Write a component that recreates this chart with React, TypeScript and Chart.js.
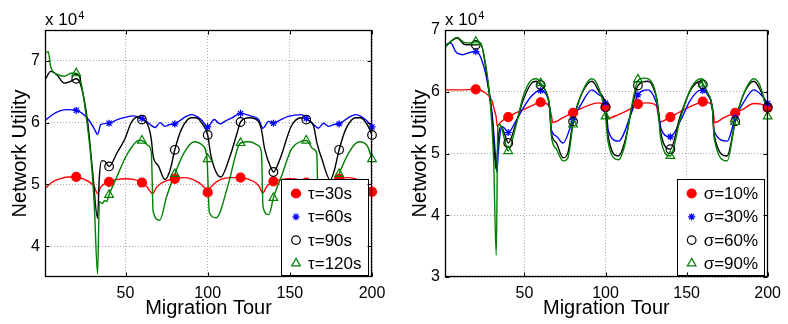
import React, { useEffect, useRef } from "react";
import { Chart, registerables } from "chart.js";

Chart.register(...registerables);

const FONT = "'Liberation Sans', Arial, Helvetica, sans-serif";
Chart.defaults.font.family = FONT;
Chart.defaults.color = "#000";

// ---------- shared axes ----------
const markerTours = [20, 40, 60, 80, 100, 120, 140, 160, 180, 200];
const xTicks = [50, 100, 150, 200];
const leftYTicks = [4, 5, 6, 7];
const rightYTicks = [3, 4, 5, 6, 7];
const xTitle = "Migration Tour";
const yTitle = "Network Utility";
const leftLabels = ["τ=30s", "τ=60s", "τ=90s", "τ=120s"];
const rightLabels = ["σ=10%", "σ=30%", "σ=60%", "σ=90%"];

// ---------- left panel (values in units of 10^4) ----------
const tau30X = [1, 5, 10, 15, 20, 25, 29, 31, 33, 35, 40, 45, 50, 55, 60, 63, 66.5, 69, 75, 80, 85, 90, 95, 98, 100, 102, 108, 114, 120, 125, 129, 131.5, 133.5, 136, 140, 145, 150, 155, 160, 163, 166.5, 169, 175, 180, 185, 190, 195, 198, 200];
const tau30Y = [4.93, 5.03, 5.09, 5.12, 5.12, 5.08, 5.02, 4.96, 4.85, 4.96, 5.04, 5.08, 5.09, 5.08, 5.03, 4.96, 4.85, 4.96, 5.06, 5.09, 5.11, 5.09, 5.02, 4.95, 4.87, 4.96, 5.08, 5.11, 5.11, 5.08, 5.03, 4.96, 4.86, 4.97, 5.05, 5.08, 5.09, 5.08, 5.03, 4.96, 4.85, 4.96, 5.06, 5.09, 5.11, 5.09, 5.02, 4.95, 4.88];
const tau30M = [5.12, 5.04, 5.03, 5.09, 4.87, 5.11, 5.05, 5.03, 5.09, 4.88];

const tau60X = [1, 5, 10, 15, 20, 25, 28, 31, 33, 35, 40, 45, 49, 55, 60, 65, 68, 71, 74, 77, 80, 85, 90, 96, 100, 104, 107.5, 111, 115, 120, 126, 131, 133.7, 137, 140, 144, 149, 157, 160, 164, 167.4, 170.5, 173.5, 177, 180, 185, 190, 196, 200];
const tau60Y = [6.03, 6.12, 6.19, 6.21, 6.2, 6.12, 6.03, 5.9, 5.81, 5.97, 5.99, 6.05, 6.08, 6.11, 6.07, 5.97, 5.92, 6.0, 5.94, 5.97, 5.98, 6.07, 6.13, 6.05, 5.93, 6.05, 5.98, 6.03, 6.08, 6.15, 6.11, 6.05, 5.91, 6.02, 5.99, 6.04, 6.1, 6.13, 6.07, 5.98, 5.91, 5.99, 5.94, 5.97, 5.98, 6.07, 6.13, 6.05, 5.93];
const tau60M = [6.2, 5.99, 6.07, 5.98, 5.93, 6.15, 5.99, 6.07, 5.98, 5.93];

const tau90X = [1, 4.5, 8, 12.7, 16.8, 20, 23, 27, 30, 33, 34, 35.5, 37, 40, 45, 49.5, 53.5, 57.5, 60, 63.5, 65.7, 66.8, 70, 74, 77, 80, 84, 90, 93, 97, 100, 102, 108, 113, 118, 120, 125.5, 130.5, 132.7, 134.7, 138.8, 140, 144, 151, 157, 160, 164.4, 166.4, 169.5, 174.6, 177, 180, 184, 190, 193, 197, 200];
const tau90Y = [6.69, 6.83, 6.78, 6.64, 6.67, 6.71, 6.59, 6.0, 5.2, 4.45, 5.09, 5.38, 5.38, 5.29, 5.52, 5.73, 6.0, 6.09, 6.05, 5.97, 5.73, 5.46, 5.3, 5.08, 5.22, 5.56, 5.89, 6.08, 6.08, 5.97, 5.8, 5.46, 5.12, 5.41, 5.84, 6.01, 6.08, 6.03, 5.89, 5.57, 5.25, 5.2, 5.41, 5.95, 6.08, 6.05, 5.95, 5.68, 5.41, 5.07, 5.22, 5.56, 5.89, 6.08, 6.08, 5.97, 5.8];
const tau90M = [6.71, 5.29, 6.05, 5.56, 5.8, 6.01, 5.2, 6.05, 5.56, 5.8];

const tau120X = [1, 3, 4.5, 8.6, 12.7, 16.8, 20, 23, 26, 29, 31, 33, 34.1, 36, 37.2, 38.5, 40, 45, 50, 54.5, 58, 60, 63.7, 65.7, 66.8, 70.8, 75, 80, 85.8, 91.9, 97, 99.6, 101, 105.2, 112.3, 118.4, 120, 125.6, 130.7, 132.7, 133.7, 137.2, 140, 145, 151, 157, 160, 164.4, 166.4, 167.3, 171, 175, 180, 186, 192, 197, 200];
const tau120Y = [7.12, 7.15, 6.9, 6.78, 6.75, 6.8, 6.8, 6.64, 6.11, 5.41, 4.66, 3.55, 4.72, 4.69, 4.74, 4.72, 4.83, 5.14, 5.44, 5.63, 5.71, 5.71, 5.63, 5.52, 4.56, 4.42, 4.8, 5.17, 5.52, 5.69, 5.63, 5.41, 4.55, 4.46, 4.98, 5.6, 5.67, 5.69, 5.63, 5.52, 4.63, 4.51, 4.78, 5.14, 5.57, 5.7, 5.71, 5.57, 5.5, 4.56, 4.43, 4.8, 5.17, 5.52, 5.69, 5.63, 5.41];
const tau120M = [6.8, 4.83, 5.71, 5.17, 5.41, 5.67, 4.78, 5.71, 5.17, 5.41];

// ---------- right panel (values in units of 10^4) ----------
const sig10X = [1, 10, 20, 26, 28, 30, 31.4, 32.5, 33.3, 35, 40, 45, 49.3, 55, 60, 64.6, 66.6, 67.5, 73.8, 80, 85, 89.6, 95, 99, 100, 101, 108, 116, 120, 126, 131.4, 133.4, 140, 145, 150, 155, 160, 165, 166.3, 167.3, 173, 180, 185, 191.5, 196, 200];
const sig10Y = [6.03, 6.03, 6.04, 5.98, 5.93, 5.85, 5.71, 5.6, 5.44, 5.5, 5.59, 5.66, 5.71, 5.78, 5.83, 5.79, 5.62, 5.5, 5.58, 5.66, 5.73, 5.78, 5.82, 5.79, 5.72, 5.57, 5.63, 5.73, 5.8, 5.82, 5.77, 5.51, 5.59, 5.66, 5.73, 5.79, 5.84, 5.8, 5.7, 5.5, 5.58, 5.66, 5.72, 5.81, 5.8, 5.74];
const sig10M = [6.04, 5.59, 5.83, 5.66, 5.75, 5.8, 5.59, 5.84, 5.66, 5.74];

const sig30X = [1, 4.5, 7.6, 11.6, 16.7, 20, 22.8, 26.9, 30, 32, 33, 34, 36, 38, 40, 44.2, 49.3, 54.4, 59.5, 63.6, 65.5, 66.6, 69.7, 73.8, 80, 85, 91.6, 96, 100, 101.8, 108, 116, 120, 126.3, 131, 132.4, 134.4, 140, 146.6, 152, 158.8, 163, 166, 167, 175.1, 180, 185, 191.5, 196, 200];
const sig30Y = [6.76, 6.79, 6.65, 6.6, 6.64, 6.65, 6.57, 6.19, 5.66, 5.01, 4.7, 5.07, 5.44, 5.4, 5.34, 5.5, 5.74, 5.93, 6.02, 5.95, 5.75, 5.39, 5.28, 5.17, 5.55, 5.8, 6.03, 5.95, 5.82, 5.36, 5.2, 5.66, 5.95, 6.03, 5.85, 5.71, 5.39, 5.27, 5.55, 5.85, 6.03, 5.95, 5.71, 5.36, 5.2, 5.58, 5.82, 6.03, 5.95, 5.81];
const sig30M = [6.65, 5.34, 6.02, 5.55, 5.82, 5.95, 5.27, 6.02, 5.58, 5.81];

const sig60X = [1, 8.6, 12.7, 16.7, 20, 23, 26.9, 30, 32.5, 34, 35.5, 38, 40, 44.2, 49.3, 54.4, 57.5, 60, 63.6, 65.5, 66.6, 69.7, 73.8, 76.8, 80, 85, 91.6, 96, 100, 101.5, 108, 112, 116, 120, 126.3, 131, 132.4, 134, 140, 146, 153, 159, 160, 163, 166, 167, 175, 180, 185, 191.5, 196, 200];
const sig60Y = [6.73, 6.87, 6.77, 6.76, 6.76, 6.77, 6.25, 5.6, 4.75, 5.28, 5.44, 5.3, 5.17, 5.44, 5.87, 6.14, 6.17, 6.11, 5.98, 5.75, 5.34, 5.17, 4.93, 5.01, 5.52, 5.95, 6.17, 6.0, 5.75, 5.3, 4.96, 5.2, 5.7, 6.1, 6.17, 5.95, 5.75, 5.35, 5.07, 5.6, 6.05, 6.17, 6.12, 5.98, 5.7, 5.3, 4.96, 5.52, 5.95, 6.17, 6.0, 5.75];
const sig60M = [6.76, 5.17, 6.11, 5.52, 5.75, 6.1, 5.07, 6.12, 5.52, 5.75];

const sig90X = [1, 8.6, 12.7, 16.7, 20, 23, 26.9, 29, 31, 32.6, 33.6, 35, 37.5, 40, 44.2, 49.3, 54.4, 57.5, 60, 63.6, 65.5, 66.6, 69.7, 73.8, 76.8, 80, 85, 91.6, 96, 100, 101.5, 108, 112, 116, 120, 123.5, 127, 131, 132.4, 134, 140, 146, 153, 159, 160, 163, 166, 167, 175, 180, 185, 191.5, 196, 200];
const sig90Y = [6.73, 6.88, 6.8, 6.79, 6.81, 6.79, 6.3, 5.8, 4.9, 3.35, 5.44, 5.47, 5.25, 5.04, 5.39, 5.93, 6.19, 6.21, 6.14, 5.98, 5.75, 5.28, 5.07, 4.88, 4.93, 5.47, 5.95, 6.21, 6.05, 5.6, 5.2, 4.9, 5.15, 5.75, 6.18, 6.22, 6.2, 5.97, 5.72, 5.25, 4.96, 5.55, 6.07, 6.21, 6.13, 5.98, 5.7, 5.25, 4.88, 5.51, 5.95, 6.21, 6.05, 5.6];
const sig90M = [6.81, 5.04, 6.14, 5.47, 5.6, 6.2, 4.96, 6.13, 5.51, 5.6];

// ---------- styles ----------
const RED = "#ff0000";
const BLUE = "#0000ff";
const BLACK = "#000000";
const GREEN = "#008000";
const GRID = "#a8a8a8";

type MarkStyle = "circle" | "star" | "triangle";
type Series = {
  label: string;
  color: string;
  style: MarkStyle;
  filled: boolean;
  radius: number;
  xs: number[];
  ys: number[];
  marks: number[];
};

const styleOf = [
  { color: RED, style: "circle" as MarkStyle, filled: true, radius: 4.5 },
  { color: BLUE, style: "star" as MarkStyle, filled: false, radius: 3.6 },
  { color: BLACK, style: "circle" as MarkStyle, filled: false, radius: 4.3 },
  { color: GREEN, style: "triangle" as MarkStyle, filled: false, radius: 5 },
];

const leftSeries: Series[] = [
  { label: leftLabels[0], ...styleOf[0], xs: tau30X, ys: tau30Y, marks: tau30M },
  { label: leftLabels[1], ...styleOf[1], xs: tau60X, ys: tau60Y, marks: tau60M },
  { label: leftLabels[2], ...styleOf[2], xs: tau90X, ys: tau90Y, marks: tau90M },
  { label: leftLabels[3], ...styleOf[3], xs: tau120X, ys: tau120Y, marks: tau120M },
];
const rightSeries: Series[] = [
  { label: rightLabels[0], ...styleOf[0], xs: sig10X, ys: sig10Y, marks: sig10M },
  { label: rightLabels[1], ...styleOf[1], xs: sig30X, ys: sig30Y, marks: sig30M },
  { label: rightLabels[2], ...styleOf[2], xs: sig60X, ys: sig60Y, marks: sig60M },
  { label: rightLabels[3], ...styleOf[3], xs: sig90X, ys: sig90Y, marks: sig90M },
];

function drawMarker(ctx: CanvasRenderingContext2D, s: Series, x: number, y: number) {
  const r = s.radius;
  ctx.beginPath();
  if (s.style === "circle") {
    ctx.arc(x, y, r, 0, Math.PI * 2);
  } else if (s.style === "triangle") {
    for (let k = 0; k < 3; k++) {
      const a = (k * 2 * Math.PI) / 3;
      const px = x + Math.sin(a) * r;
      const py = y - Math.cos(a) * r;
      if (k === 0) ctx.moveTo(px, py);
      else ctx.lineTo(px, py);
    }
    ctx.closePath();
  } else {
    for (let k = 0; k < 4; k++) {
      const a = (k * Math.PI) / 4;
      const dx = Math.cos(a) * r;
      const dy = Math.sin(a) * r;
      ctx.moveTo(x - dx, y - dy);
      ctx.lineTo(x + dx, y + dy);
    }
  }
  if (s.filled) {
    ctx.fillStyle = s.color;
    ctx.fill();
  }
  ctx.strokeStyle = s.color;
  ctx.lineWidth = 1.2;
  ctx.stroke();
}

function decorPlugin(series: Series[], yTicks: number[]) {
  return {
    id: "decor",
    afterDatasetsDraw(chart: any) {
      const { ctx, chartArea: a } = chart;
      const xs = chart.scales.x;
      const ys = chart.scales.y;
      ctx.save();
      // legend box
      const lx0 = a.right - 91;
      const lx1 = a.right - 4;
      const ly0 = a.top + 149;
      const ly1 = a.bottom - 2;
      ctx.fillStyle = "#fff";
      ctx.fillRect(lx0, ly0, lx1 - lx0, ly1 - ly0);
      ctx.strokeStyle = "#000";
      ctx.lineWidth = 1;
      ctx.strokeRect(Math.round(lx0) + 0.5, Math.round(ly0) + 0.5, Math.round(lx1 - lx0), Math.round(ly1 - ly0));
      series.forEach((s, i) => {
        const cy = ly0 + 14.5 + i * 23.3;
        drawMarker(ctx, s, lx0 + 15, cy);
        ctx.fillStyle = "#000";
        ctx.font = `17px ${FONT}`;
        ctx.textAlign = "left";
        ctx.textBaseline = "middle";
        ctx.fillText(s.label, lx0 + 27, cy + 1);
      });
      // axes box
      ctx.strokeStyle = "#000";
      ctx.lineWidth = 1.3;
      const L = Math.round(a.left) + 0.5;
      const R = Math.round(a.right) - 0.5;
      const T = Math.round(a.top) + 0.5;
      const B = Math.round(a.bottom) - 0.5;
      ctx.strokeRect(L, T, R - L, B - T);
      // inner ticks on all sides
      ctx.lineWidth = 1;
      ctx.beginPath();
      xTicks.forEach((v) => {
        const px = Math.round(xs.getPixelForValue(v)) + 0.5;
        ctx.moveTo(px, B);
        ctx.lineTo(px, B - 4);
        ctx.moveTo(px, T);
        ctx.lineTo(px, T + 4);
      });
      yTicks.forEach((v) => {
        const py = Math.round(ys.getPixelForValue(v)) + 0.5;
        ctx.moveTo(L, py);
        ctx.lineTo(L + 4, py);
        ctx.moveTo(R, py);
        ctx.lineTo(R - 4, py);
      });
      ctx.stroke();
      // exponent label
      ctx.fillStyle = "#000";
      ctx.textAlign = "left";
      ctx.textBaseline = "alphabetic";
      ctx.font = `17px ${FONT}`;
      ctx.fillText("x 10", a.left, a.top - 5);
      const w = ctx.measureText("x 10").width;
      ctx.font = `11px ${FONT}`;
      ctx.fillText("4", a.left + w + 1, a.top - 11);
      ctx.restore();
    },
  };
}

function buildConfig(series: Series[], yMin: number, yMax: number, yTicks: number[], padRight: number): any {
  const lineSets = series.map((s, i) => ({
    type: "line",
    label: s.label + " curve",
    data: s.xs.map((x, j) => ({ x, y: s.ys[j] })),
    borderColor: s.color,
    borderWidth: 1.4,
    pointRadius: 0,
    pointHoverRadius: 0,
    cubicInterpolationMode: "monotone",
    fill: false,
    order: 20 - i,
  }));
  const markSets = series.map((s, i) => ({
    type: "line",
    label: s.label,
    data: markerTours.map((x, j) => ({ x, y: s.marks[j] })),
    showLine: false,
    pointStyle: s.style === "circle" ? "circle" : s.style,
    pointRadius: s.radius,
    pointHoverRadius: s.radius,
    pointBackgroundColor: s.filled ? s.color : "rgba(0,0,0,0)",
    pointBorderColor: s.color,
    pointBorderWidth: 1.2,
    clip: false,
    order: 10 - i,
  }));
  return {
    type: "line",
    data: { datasets: [...lineSets, ...markSets] },
    options: {
      responsive: false,
      animation: false,
      devicePixelRatio: 1,
      events: [],
      layout: { padding: { top: 30, right: padRight, bottom: 0, left: 0 } },
      plugins: { legend: { display: false }, tooltip: { enabled: false } },
      scales: {
        x: {
          type: "linear",
          min: 1,
          max: 200,
          afterBuildTicks: (sc: any) => {
            sc.ticks = xTicks.map((v) => ({ value: v }));
          },
          afterFit: (sc: any) => {
            sc.height = 47;
          },
          ticks: { font: { family: FONT, size: 16 }, color: "#000", padding: 7, maxRotation: 0, autoSkip: false },
          grid: { color: GRID, lineWidth: 1, drawTicks: false },
          border: { display: false, dash: [1, 2] },
          title: { display: true, text: xTitle, color: "#000", font: { family: FONT, size: 20 }, padding: { top: 0, bottom: 4 } },
        },
        y: {
          type: "linear",
          min: yMin,
          max: yMax,
          afterBuildTicks: (sc: any) => {
            sc.ticks = yTicks.map((v) => ({ value: v }));
          },
          afterFit: (sc: any) => {
            sc.width = 45;
          },
          ticks: { font: { family: FONT, size: 16 }, color: "#000", padding: 5, autoSkip: false },
          grid: { color: GRID, lineWidth: 1, drawTicks: false },
          border: { display: false, dash: [1, 2] },
          title: { display: true, text: yTitle, color: "#000", font: { family: FONT, size: 20 }, padding: { top: 8, bottom: 0 } },
        },
      },
    },
    plugins: [decorPlugin(series, yTicks)],
  };
}

function Panel(props: { series: Series[]; yMin: number; yMax: number; yTicks: number[]; left: number; width: number; padRight: number }) {
  const ref = useRef<HTMLCanvasElement>(null);
  useEffect(() => {
    if (!ref.current) return;
    const chart = new Chart(ref.current, buildConfig(props.series, props.yMin, props.yMax, props.yTicks, props.padRight));
    return () => chart.destroy();
  }, []);
  return (
    <canvas
      ref={ref}
      width={props.width}
      height={324}
      style={{ position: "absolute", left: props.left, top: 0, width: props.width, height: 324 }}
    />
  );
}

export default function App() {
  return (
    <div style={{ position: "fixed", left: 0, top: 0, width: 788, height: 324, background: "#fff", overflow: "hidden" }}>
      <Panel series={leftSeries} yMin={3.5} yMax={7.5} yTicks={leftYTicks} left={0} width={400} padRight={28} />
      <Panel series={rightSeries} yMin={3} yMax={7} yTicks={rightYTicks} left={400} width={388} padRight={17} />
    </div>
  );
}
